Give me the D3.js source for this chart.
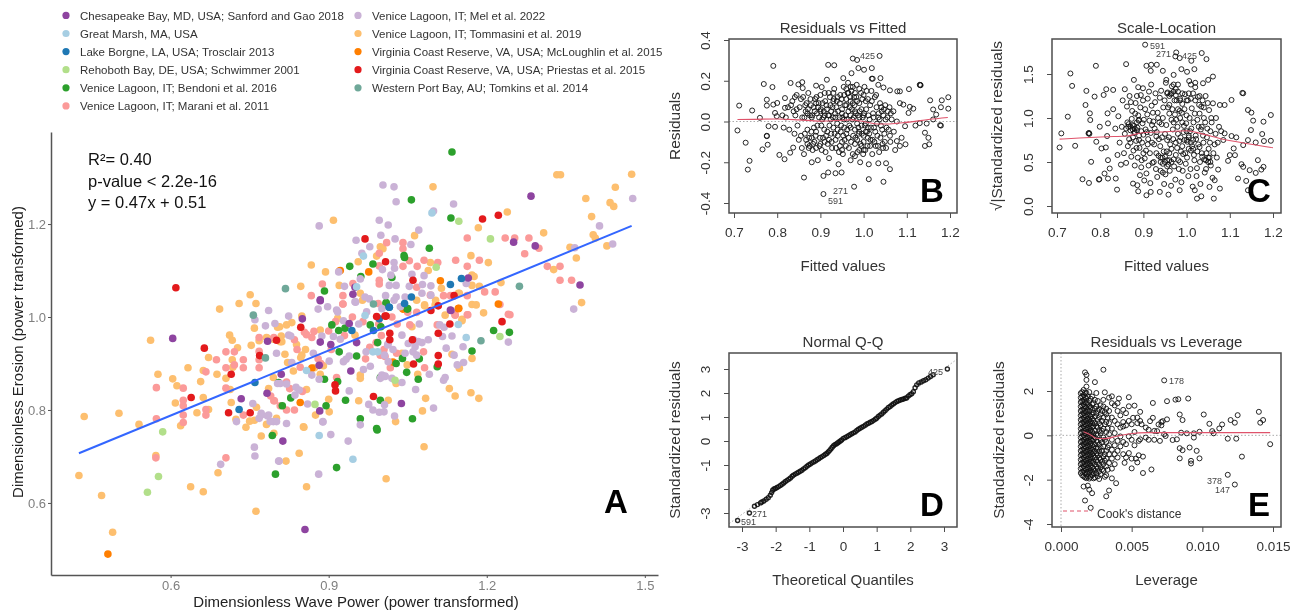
<!DOCTYPE html>
<html><head><meta charset="utf-8">
<script src="https://cdn.jsdelivr.net/npm/d3@7/dist/d3.min.js"></script>
<style>html,body{margin:0;padding:0;background:#fff}svg{display:block;filter:blur(.4px)}text{font-family:"Liberation Sans",Arial,sans-serif}</style>
</head><body><svg id="c" width="1303" height="611"></svg>
<script>
const legendLabels=["Chesapeake Bay, MD, USA; Sanford and Gao 2018","Great Marsh, MA, USA","Lake Borgne, LA, USA; Trosclair 2013","Rehoboth Bay, DE, USA; Schwimmer 2001","Venice Lagoon, IT; Bendoni et al. 2016","Venice Lagoon, IT; Marani et al. 2011","Venice Lagoon, IT; Mel et al. 2022","Venice Lagoon, IT; Tommasini et al. 2019","Virginia Coast Reserve, VA, USA; McLoughlin et al. 2015","Virginia Coast Reserve, VA, USA; Priestas et al. 2015","Western Port Bay, AU; Tomkins et al. 2014"];
const legendColors=["#8e44a0","#a6cee3","#1f78b4","#b2df8a","#2ca02c","#fb9a99","#cab2d6","#fdbf6f","#ff7f00","#e31a1c","#6fa899"];
const chesapeake=[[.604,.954],[.784,.948],[.734,.824],[.783,.836],[.813,.733],[.810,.877],[.850,.996],[.884,.946],[.904,.941],[.939,.986],[.953,.945],[.882,.896],[.942,.884],[.883,.798],[.884,1.035],[.884,1.037],[.950,1.064],[.946,1.049],[1.131,1.015],[1.284,1.260],[1.251,1.161],[1.292,1.153],[1.377,1.069],[1.165,1.084],[1.132,1.014],[1.038,.814],[.855,.543]];
const greatMarsh=[[.969,1.003],[.984,.925],[.993,.925],[.858,.885],[.966,1.131],[1.096,1.224],[.953,1.065],[1.161,.956],[1.146,.984],[.882,.745],[.946,.694]];
const lakeBorgne=[[.760,.859],[.730,.801],[.944,.971],[.985,.971],[.996,.996],[1.131,1.070],[1.057,1.043],[1.044,1.029],[1.015,1.021],[1.152,1.083],[1.015,1.021]];
const rehoboth=[[.585,.753],[.577,.657],[.556,.623],[.874,.812],[1.147,1.206],[1.104,1.107],[1.207,1.168],[1.225,.958],[1.026,.864]];
const bendoni=[[.793,.745],[.799,.662],[.805,.859],[.906,.983],[.919,.971],[.931,.976],[.979,.983],[.993,.945],[.920,.925],[.953,.916],[.892,.866],[.917,.861],[.828,.826],[.812,.809],[.895,.809],[.932,.821],[.960,.781],[.991,.760],[.998,.870],[1.134,1.355],[1.057,1.252],[1.132,1.213],[1.091,1.148],[1.043,1.132],[1.044,1.128],[.984,1.114],[.940,1.109],[1.020,1.085],[.961,1.087],[.892,1.056],[1.009,1.031],[1.050,1.018],[1.172,.927],[1.213,.971],[1.243,.967],[1.106,.893],[1.072,.910],[1.070,.866],[1.048,.881],[1.040,.911],[1.028,.900],[1.059,.781],[.998,.821],[.999,.979],[1.009,1.029],[1.049,1.017],[.915,.676],[.992,.757]];
const marani=[[.573,.848],[.624,.847],[.624,.821],[.624,.809],[.624,.789],[.624,.773],[.573,.781],[.572,.697],[.667,.882],[.667,.801],[.667,.789],[.687,.908],[.705,.925],[.721,.925],[.705,.891],[.705,.847],[.721,.897],[.738,.908],[.738,.891],[.768,.956],[.768,.926],[.768,.908],[.768,.891],[.796,.956],[.705,.697],[.738,.789],[.796,.820],[.808,.809],[.927,1.028],[.868,.956],[.846,.892],[.820,.800],[.797,.820],[1.010,1.160],[1.041,1.160],[1.041,1.147],[.996,1.137],[1.053,1.121],[1.081,1.122],[1.107,1.117],[1.141,1.122],[1.068,1.109],[1.041,1.109],[.996,1.110],[.996,1.079],[.996,1.071],[.888,1.071],[.867,1.046],[.927,1.046],[.927,1.028],[.946,1.072],[1.067,1.064],[1.093,1.047],[1.118,1.046],[1.131,1.046],[.994,1.029],[1.163,1.170],[1.235,1.170],[1.253,1.170],[1.280,1.170],[1.299,1.148],[1.272,1.136],[1.186,1.122],[1.163,1.109],[1.315,1.109],[1.339,1.109],[1.339,1.079],[1.361,1.079],[1.216,1.054],[1.196,1.054],[1.163,1.046],[1.163,1.005],[1.244,1.005],[1.225,1.027],[1.140,1.004],[1.164,1.005],[1.241,1.006],[1.067,1.010],[1.140,1.005],[1.106,.983],[1.054,.983],[1.080,.925],[1.082,.891],[1.029,.922],[1.007,.915],[1.017,.891],[.998,.918],[.835,.951],[.854,.967],[.872,.969],[.858,.962],[.84,.93],[.82,.86],[.826,.846],[.79,.83],[.9,.97],[.913,.99],[.93,.96],[.945,1.0],[.965,.99],[.995,.985],[.978,.935],[.99,.945],[1.005,.93],[1.02,1.0],[1.03,.985],[1.05,1.01],[.88,.91],[.885,.9],[.905,.93],[.915,.87],[.85,.84],[.835,.80],[.97,.91],[1.0,.96]];
const mel=[[.786,1.014],[.760,.994],[.780,.981],[.798,.986],[.801,.922],[.756,.814],[.725,.775],[.772,.793],[.768,.782],[.786,.789],[.795,.775],[.801,.775],[.759,.720],[.760,.701],[.695,.683],[.805,.690],[.808,.857],[.824,1.002],[.880,1.017],[.898,1.022],[.950,1.033],[.917,1.011],[.928,.992],[.957,.985],[.828,.959],[.824,.961],[.887,.959],[.909,.958],[.922,.952],[.871,.922],[.971,.925],[.933,.909],[.939,.916],[.928,.904],[.901,.905],[.868,.875],[.882,.866],[.830,.902],[.966,.887],[.979,.894],[.976,.812],[.939,.841],[.803,.857],[.820,.856],[.838,.849],[.844,.843],[.836,.832],[.860,.813],[.772,.789],[.784,.787],[.789,.775],[.820,.771],[.889,.775],[.984,.800],[.996,.795],[.998,.868],[1.007,.873],[1.012,.940],[1.003,1.284],[1.024,1.280],[1.028,1.248],[1.137,1.243],[1.099,1.228],[.996,1.208],[1.013,1.198],[.882,1.196],[1.071,1.187],[.999,1.176],[.952,1.165],[1.026,1.168],[1.056,1.156],[.978,1.151],[.963,1.137],[1.024,1.117],[1.025,1.105],[1.002,1.102],[.919,1.097],[.960,1.082],[1.018,1.090],[1.058,1.092],[1.081,1.089],[1.015,1.068],[1.028,1.068],[1.053,1.066],[1.078,1.070],[1.094,1.067],[.930,1.066],[1.077,1.051],[1.094,1.047],[1.008,1.046],[1.028,1.043],[1.024,1.036],[1.045,1.043],[.969,1.043],[.977,1.039],[.951,1.032],[.972,1.011],[.915,1.015],[1.001,1.018],[1.036,1.022],[1.477,1.255],[1.414,1.196],[1.439,1.157],[1.367,1.149],[1.365,1.017],[1.161,1.072],[1.039,.961],[1.072,.985],[1.111,.983],[1.119,.978],[1.116,.958],[1.134,.959],[1.155,.936],[1.089,.951],[1.123,.933],[1.138,.918],[1.061,.951],[1.070,.947],[1.077,.945],[1.051,.943],[1.064,.936],[1.060,.925],[1.067,.918],[1.045,.922],[1.022,.930],[1.013,.943],[1.006,.918],[1.013,.904],[1.144,.897],[1.156,.902],[1.241,.946],[1.091,.877],[1.121,.870],[1.118,.864],[1.065,.844],[1.001,.875],[1.007,.872],[1.020,.868],[1.039,.859],[1.006,.811],[1.005,.796],[1.025,.787],[1.099,.804],[.904,.747],[.937,.733],[.806,.690],[.881,.662],[.960,.768],[.889,.774]];
const tommasini=[[.751,1.048],[.730,1.029],[.762,1.029],[.693,1.017],[.562,.950],[.712,.961],[.717,.950],[.727,.934],[.753,.939],[.768,.949],[.672,.913],[.717,.908],[.633,.891],[.662,.885],[.688,.877],[.718,.892],[.705,.868],[.576,.877],[.604,.867],[.657,.861],[.612,.852],[.713,.844],[.786,.846],[.662,.827],[.609,.815],[.715,.816],[.650,.794],[.672,.801],[.502,.793],[.436,.786],[.540,.769],[.619,.766],[.724,.780],[.750,.776],[.763,.806],[.759,.778],[.743,.763],[.782,.769],[.796,.750],[.772,.744],[.795,.870],[.572,.702],[.690,.665],[.426,.659],[.469,.616],[.638,.635],[.662,.624],[.762,.582],[.490,.537],[.784,.954],[.759,.976],[.803,.978],[.808,.947],[.807,.979],[.830,.988],[.820,.983],[.849,1.002],[.884,.972],[.917,.997],[.950,.961],[.810,.959],[.782,.956],[.811,.947],[.839,.941],[.856,.930],[.817,.920],[.847,.913],[.822,.902],[.833,.884],[.849,.918],[.890,.895],[.884,.877],[.960,.875],[.960,.868],[.858,.844],[.900,.823],[.875,.789],[.901,.796],[.852,.764],[.957,.820],[.801,.782],[.873,.891],[.795,.952],[1.098,1.280],[.909,1.208],[1.063,1.175],[.998,1.151],[1.003,1.147],[.991,1.131],[.956,1.119],[.867,1.112],[.894,1.097],[1.093,1.117],[1.089,1.100],[.920,1.099],[.847,1.066],[.920,1.068],[1.114,1.062],[.960,1.051],[.964,1.036],[1.067,1.036],[1.103,1.036],[1.082,1.024],[1.146,1.051],[1.475,1.307],[1.333,1.306],[1.340,1.306],[1.444,1.279],[1.388,1.255],[1.434,1.246],[1.441,1.238],[1.399,1.216],[1.239,1.226],[1.184,1.192],[1.308,1.181],[1.402,1.177],[1.406,1.170],[1.358,1.150],[1.428,1.153],[1.370,1.127],[1.170,1.132],[1.203,1.117],[1.327,1.102],[1.380,1.031],[1.172,1.090],[1.176,1.087],[1.227,1.074],[1.172,1.068],[1.186,1.066],[1.172,1.027],[1.180,1.026],[1.194,1.009],[1.148,1.051],[1.153,.995],[1.082,1.026],[1.102,1.026],[1.153,.992],[1.121,1.004],[1.058,.979],[1.039,.922],[1.049,.897],[1.069,.877],[1.172,.911],[1.148,.890],[1.134,.920],[1.129,.846],[1.140,.830],[1.170,.837],[1.185,.825],[1.084,.825],[1.078,.798],[1.013,.821],[1.028,.857],[1.027,.775],[.853,.763],[.844,.707],[.819,.690],[.858,.635],[1.009,.652],[1.081,.721]];
const mcLoughlin=[[.868,.890],[.846,.816],[.481,.490],[.976,1.097],[.922,1.100],[1.112,1.078],[1.146,1.018],[1.042,1.018],[1.222,1.028],[1.147,1.019],[1.022,.903],[1.041,1.017]];
const priestas=[[.610,1.063],[.664,.933],[.639,.827],[.715,.877],[.710,.794],[.751,.794],[.769,.917],[.801,.950],[.847,.978],[.912,.854],[.913,.841],[.985,.829],[1.009,1.002],[.991,1.001],[.969,1.168],[1.008,1.119],[1.060,1.079],[1.138,1.046],[1.108,1.024],[1.192,1.211],[1.222,1.219],[1.229,.990],[1.016,.965],[1.016,.951],[1.061,.899],[1.108,.917],[1.108,.899],[1.108,.965],[1.130,.985],[1.094,1.014],[1.007,1.002],[1.059,.951]];
const westernPort=[[.757,1.004],[.780,.912],[.985,1.028],[.818,1.061],[1.262,1.066],[1.189,.949]];
const fitLineX=[.426,1.475], fitLineY=[.707,1.196];
const annotationLines=["R²= 0.40","p-value < 2.2e-16","y = 0.47x + 0.51"];
const aTicksX=[.6,.9,1.2,1.5], aTicksY=[.6,.8,1.0,1.2];

const fittedTicks=[.7,.8,.9,1,1.1,1.2];
const residualTicks=[-.4,-.2,0,.2,.4], scaleTicks=[0,.5,1,1.5], qqXTicks=[-3,-2,-1,0,1,2,3], qqYTicks=[-3,-2,-1,0,1,2,3], levXTicks=[0,.005,.01,.015], levYTicks=[-4,-2,0,2];

const rvfPoints=[[.712,.078],[.708,-.044],[.742,.054],[.727,-.104],[.736,-.193],[.732,-.236],[.791,.273],[.769,.184],[.789,.169],[.776,.107],[.776,.078],[.760,.018],[.776,-.072],[.776,-.07],[.766,-.137],[.778,-.114],[.780,-.023],[.800,.091],[.791,.083],[.795,.042],[.799,.026],[.795,-.026],[.818,.115],[.818,.067],[.805,-.164],[.817,-.185],[.831,.189],[.849,.182],[.858,.193],[.841,.12],[.830,-.153],[.837,-.128],[.862,-.275],[.859,.164],[.890,.176],[.903,.169],[.915,.205],[.918,.278],[.932,.276],[.907,-.267],[.918,-.25],[.935,-.254],[.949,-.25],[.907,-.356],[.978,-.32],[.975,.309],[.985,.302],[1.037,.322],[.988,.262],[1.001,.254],[1.019,.262],[1.019,.21],[1.021,.21],[1.039,.213],[1.012,-.283],[1.046,-.296],[1.061,-.234],[1.052,-.205],[1.034,-.205],[.972,.237],[.953,.213],[1.061,.153],[1.034,.18],[1.046,.167],[1.078,.148],[1.084,.148],[1.105,.159],[1.131,.179],[1.132,.178],[1.130,.18],[1.154,.104],[1.196,.119],[1.181,.104],[1.179,.07],[1.196,.063],[1.161,.059],[1.168,.034],[1.146,-.01],[1.13,-.008],[1.12,-.02],[1.142,-.055],[1.15,-.08],[1.142,-.12],[1.152,-.112],[1.177,-.018],[1.179,-.02],[1.161,.01],[1.096,-.023],[1.097,-.112],[1.084,-.12],[1.088,-.08],[1.077,-.096],[1.077,0],[1.069,.05],[1.084,.09],[1.092,.083],[1.107,.072],[1.115,.063],[1.104,.042],
[.812,.03],[.815,-.03],[.82,.02],[.825,.07],[.828,-.04],[.832,.08],[.835,.1],[.838,.05],[.84,-.06],[.842,.03],[.845,.13],[.847,-.02],[.85,-.09],[.852,.07],[.855,.11],[.857,-.13],[.858,.02],[.86,.12],[.862,-.16],[.864,-.06],[.866,.05],[.868,.09],[.87,-.11],[.872,.14],[.874,-.08],[.876,.03],[.878,.08],[.88,-.2],[.882,-.14],[.884,.07],[.886,-.1],[.888,.11],[.89,-.05],[.892,.04],[.894,-.19],[.896,.09],[.898,-.12],[.9,.13],[.902,-.02],[.904,.01],[.906,-.08],[.908,.05],[.91,.14],[.912,-.15],[.914,.08],[.916,-.05],[.918,.03],[.92,-.18],[.922,.12],[.924,.01],[.926,-.1],[.928,.07],[.93,-.03],[.932,.16],[.934,.04],[.936,-.13],[.938,.1],[.94,-.07],[.942,-.21],[.944,.02],[.946,.13],[.948,-.02],[.95,.06],[.952,-.16],[.954,.17],[.956,-.09],[.958,.03],[.96,.11],[.962,-.04],[.964,.19],[.966,-.13],[.968,.07],[.97,-.19],[.972,.15],[.974,.01],[.976,-.07],[.978,.12],[.98,-.11],[.982,.04],[.984,.18],[.986,-.15],[.988,-.03],[.99,.09],[.992,-.2],[.994,.14],[.996,-.06],[.998,.02],[1.0,-.1],[1.002,.17],[1.004,-.14],[1.006,.06],[1.008,-.05],[1.01,.11],[1.012,-.21],[1.014,.01],[1.016,-.09],[1.018,.15],[1.02,-.16],[1.022,.04],[1.024,-.03],[1.026,.12],[1.028,-.12],[1.03,.07],[1.032,-.07],[1.034,.02],[1.036,-.15],[1.038,.09],[1.04,-.02],[1.042,.05],[1.044,-.11],[1.046,.03],[1.048,-.06],[1.05,.08],[1.052,-.13],[1.055,.02],[1.058,-.04],[1.06,.07],[1.062,-.1],[1.065,.01],[1.07,-.05],[1.073,-.14],
[.925,.05],[.935,.02],[.945,.09],[.955,.13],[.965,.05],[.975,.17],[.985,-.01],[.995,.06],[1.005,.1],[.925,-.06],[.935,-.09],[.945,-.12],[.955,-.03],[.965,-.08],[.975,-.16],[.985,-.09],[.995,-.12],[1.005,-.05],[1.015,-.12],[.905,.09],[.895,.07],[.885,-.03],[.875,-.12],[.865,.08],[.855,-.07],[.845,.06],[1.025,-.1],[1.035,.04],[1.045,-.13],[.96,.16],[.97,.1],[.98,.14],[.99,.16],[1.0,.13],[.97,.03],[.98,-.04],[.99,-.14],[1.0,-.07],[1.01,-.08],[.95,-.1],[.94,.12],[.93,.1],[.92,.03],[.91,-.1],[.9,-.11],[.89,-.13],
[.863,.02],[.867,-.09],[.871,.06],[.873,-.13],[.877,.11],[.879,-.05],[.881,.03],[.883,-.11],[.887,.05],[.889,-.07],[.891,.12],[.893,-.02],[.897,.02],[.899,-.08],[.901,.06],[.903,-.14],[.907,.02],[.909,-.04],[.911,.1],[.913,-.07],[.915,.06],[.917,-.11],[.919,.14],[.921,-.02],[.923,.08],[.927,-.13],[.929,.02],[.931,.11],[.933,-.06],[.937,.07],[.939,-.01],[.941,.05],[.943,-.15],[.947,-.05],[.949,.11],[.951,.02],[.953,-.07],[.957,.08],[.959,-.12],[.961,.01],[.963,.14],[.967,-.02],[.969,.12],[.971,-.1],[.973,.06],[.977,.02],[.979,.08],[.981,-.08],[.983,.12],[.987,.03],[.989,-.06],[.991,.05],[.993,-.11],[.997,.11],[.999,-.16],[1.001,.04],[1.003,-.02],[1.007,.15],[1.009,-.12],[1.011,.03],[1.013,-.06],[1.015,.08],[1.017,-.03],[1.019,.1],[1.021,-.09],[1.023,.02],[1.027,-.05],[1.029,.13],[1.031,-.01],[1.033,-.12],[1.037,.01],[1.039,-.08],[1.041,.07],[1.043,-.04],[1.047,.06],[1.049,-.1],[1.051,.01],[1.053,-.03],[1.056,.05],[1.061,-.07],[1.063,.04],
[.95,.04],[.955,.01],[.96,-.06],[.965,.14],[.97,-.03],[.975,.09],[.98,.05],[.985,.1],[.99,-.05],[.995,-.02],[1.0,.03],[1.005,-.01],[1.01,-.03],[.96,.08],[.97,.17],[.98,-.17],[.99,.02],[1.0,-.14],[.95,-.14],[.94,-.04],[.93,.14],[.92,-.09],[.91,.03],[.9,.05],[.89,.09],[.88,.02],[.87,.04],[.88,-.08],[.87,-.04]];
const rvfSmoothX=[.708,.8,.85,.9,.95,.97,1.0,1.03,1.06,1.08,1.11,1.15,1.195], rvfSmoothY=[.01,.012,.008,.002,.006,.008,0,-.012,-.012,-.008,-.002,.01,.02];

const slPoints=[[.706,.665],[.71,.825],[.725,1.015],[.731,1.506],[.735,1.365],[.742,.684],[.759,.304],[.766,1.148],[.768,1.308],[.776,1.053],[.777,.977],[.773,.825],[.774,.83],[.775,.82],[.79,1.593],[.787,1.243],[.779,.502],[.774,.262],[.797,.3],[.798,.305],[.808,1.262],[.814,1.327],[.83,1.319],[.817,1.053],[.818,.939],[.816,.795],[.799,.901],[.791,.73],[.813,.665],[.803,.654],[.818,.521],[.822,.426],[.818,.312],[.81,.369],[.836,.312],[.839,.186],[.86,1.612],[.878,1.433],[.857,1.327],[.888,1.35],[.899,1.338],[.876,.255],[.886,.236],[.888,.167],[.907,.122],[.917,.16],[.938,.16],[.958,.129],[.904,1.833],[.907,1.593],[.918,1.605],[.931,1.605],[.917,1.536],[.945,1.536],[.976,1.745],[.984,1.681],[.974,1.7],[1.011,1.65],[1.035,1.738],[1.046,1.669],[.988,1.555],[1.001,1.525],[1.018,1.555],[.97,1.49],[.953,1.433],[1.061,1.471],[1.05,1.433],[1.038,1.395],[1.061,1.167],[1.104,1.205],[1.077,1.148],[1.088,1.148],[1.131,1.281],[1.129,1.285],[1.142,1.091],[1.15,1.061],[1.154,.97],[1.178,.958],[1.195,1.034],[1.149,.863],[1.175,.818],[1.142,.749],[1.16,.722],[1.179,.738],[1.195,.741],[1.131,.692],[1.115,.78],[1.104,.795],[1.088,.825],[1.109,.654],[1.1,.578],[1.112,.578],[1.096,.513],[1.127,.475],[1.131,.445],[1.165,.521],[1.178,.445],[1.173,.414],[1.16,.376],[1.146,.407],[1.119,.312],[1.138,.285],[1.142,.179],[1.073,.414],[1.077,.198],[1.063,.084],[1.065,.293],[1.053,.217],[1.034,.11],[1.024,.084],[1.019,.179],[.984,.179],
[.83,1.1],[.835,.88],[.84,.58],[.842,1.02],[.845,.72],[.848,.47],[.85,.9],[.852,1.2],[.855,.6],[.857,.82],[.86,.49],[.862,1.13],[.864,.68],[.866,.93],[.868,1.25],[.87,.86],[.872,.56],[.874,1.08],[.876,.78],[.878,.91],[.88,.46],[.882,1.17],[.884,.66],[.886,.89],[.888,1.03],[.89,.75],[.892,.35],[.894,1.26],[.896,.52],[.898,.94],[.9,.81],[.902,.29],[.904,1.1],[.906,.63],[.908,.84],[.91,1.22],[.912,.46],[.914,.97],[.916,.26],[.918,1.38],[.92,.72],[.922,1.06],[.924,.5],[.926,.88],[.928,1.28],[.93,.6],[.932,.33],[.934,1.0],[.936,.76],[.938,1.23],[.94,.4],[.942,.93],[.944,.55],[.946,1.12],[.948,.25],[.95,.82],[.952,1.4],[.954,.62],[.956,1.29],[.958,.47],[.96,1.05],[.962,.7],[.964,.23],[.966,1.36],[.968,.87],[.97,.53],[.972,1.2],[.974,.3],[.976,.98],[.978,.66],[.98,1.3],[.982,.42],[.984,1.08],[.986,.78],[.988,.27],[.99,1.16],[.992,.59],[.994,.91],[.996,1.27],[.998,.48],[1.0,1.03],[1.002,.73],[1.004,.34],[1.006,1.42],[1.008,.85],[1.01,.63],[1.012,1.11],[1.014,.22],[1.016,.95],[1.018,.52],[1.02,1.35],[1.022,.76],[1.024,.43],[1.026,1.24],[1.028,.9],[1.03,.67],[1.032,.25],[1.034,1.13],[1.036,.56],[1.038,.8],[1.04,1.0],[1.042,.38],[1.044,1.25],[1.046,.6],[1.048,.88],[1.05,.5],[1.052,1.09],[1.054,.72],[1.056,.46],[1.058,.95],[1.06,.32],[1.065,.7],[1.068,1.0],[1.07,.55],[1.075,.9],[1.08,.85],[1.085,.75],
[.87,.9],[.875,.87],[.88,.84],[.885,.95],[.89,.8],[.895,.85],[.9,.6],[.91,.7],[.92,.92],[.93,.79],[.94,.55],[.945,.38],[.95,.56],[.955,1.28],[.96,1.15],[.965,.98],[.97,1.3],[.975,1.26],[.98,1.1],[.985,1.0],[.99,.95],[.995,.75],[1.0,.85],[1.005,.65],[1.01,1.22],[1.015,.75],[1.02,1.4],[1.025,.62],[1.03,1.05],[1.035,.9],[.955,.75],[.96,.6],[.965,.5],[.97,.95],[.975,.72],[.98,.82],[.985,.5],[.99,.68],
[.863,.95],[.867,.76],[.871,1.18],[.873,.99],[.877,.63],[.879,.83],[.881,1.05],[.883,.74],[.885,1.25],[.887,.55],[.889,.97],[.891,.66],[.893,1.12],[.895,.44],[.897,.72],[.899,1.2],[.901,.98],[.903,.54],[.905,.87],[.907,.37],[.909,1.04],[.911,.76],[.913,1.3],[.915,.6],[.917,.83],[.919,1.14],[.921,.49],[.923,.96],[.925,.7],[.927,1.18],[.929,.42],[.931,.84],[.933,1.06],[.935,.57],[.937,.95],[.939,.68],[.941,1.31],[.943,.78],[.945,1.0],[.947,.62],[.949,1.2],[.951,.36],[.953,.92],[.955,.52],[.957,1.12],[.959,.78],[.961,.4],[.963,1.27],[.965,.65],[.967,1.1],[.969,.76],[.971,.45],[.973,1.04],[.975,.58],[.977,1.2],[.979,.9],[.981,.52],[.983,.74],[.985,1.22],[.987,.62],[.989,1.06],[.991,.4],[.993,.84],[.995,1.1],[.997,.6],[.999,.94],[1.001,.55],[1.003,1.2],[1.005,.78],[1.007,1.0],[1.009,.42],[1.011,.88],[1.013,.68],[1.015,1.28],[1.017,.58],[1.019,1.05],[1.021,.8],[1.023,.34],[1.025,.98],[1.027,.7],[1.029,1.15],[1.031,.5],[1.033,.87],[1.035,.6],[1.037,1.2],[1.039,.72],[1.041,.53],[1.043,.95],[1.045,.42],[1.047,.78],[1.049,1.17],[1.051,.65],[1.053,.55],[1.055,.85],[1.057,1.0],[1.062,.6],[1.067,.82],[1.072,.72],
[.86,.88],[.865,.9],[.87,.72],[.875,.92],[.88,.88],[.885,.86],[.89,.98],[.96,1.25],[.965,1.28],[.97,1.38],[.975,1.33],[.98,1.38],[.985,1.2],[.99,1.28],[1.0,1.2],[1.005,1.28],[1.01,1.38],[1.02,1.2],[1.03,1.25],[1.04,1.12],[.95,.5],[.955,.45],[.96,.52],[.945,.48],[.94,.5],[1.0,.75],[1.005,.8],[1.01,.72],[1.015,.65],[1.045,.52],[1.05,.55],[1.055,.5]];
const slSmoothX=[.706,.752,.814,.86,.899,.953,1,1.038,1.077,1.138,1.2], slSmoothY=[.76,.772,.787,.795,.833,.844,.855,.817,.768,.711,.662];

const qqPoints=[[-3.13,-3.31],[-2.78,-3.0],[-2.63,-2.72],[-2.54,-2.65],[-2.45,-2.58],[-2.41,-2.54],[-2.35,-2.5],[-2.28,-2.43],[-2.22,-2.36],[-2.16,-2.26],[-2.12,-2.15],[-2.09,-2.05],[-2.05,-2.0],[-2.01,-1.98],[-1.96,-1.94],[-1.91,-1.9],[-1.86,-1.85],[-1.81,-1.8],[-1.76,-1.75],[-1.71,-1.69],[-1.66,-1.64],[-1.61,-1.59],[-1.56,-1.54],[-1.51,-1.47],[-1.47,-1.42],[-1.42,-1.38],[-1.37,-1.34],[-1.32,-1.3],[-1.27,-1.26],[-1.22,-1.22],[-1.17,-1.16],[-1.12,-1.11],[-1.07,-1.05],[-1.02,-1.0],[-.97,-.96],[-.92,-.91],[-.87,-.87],[-.82,-.83],[-.77,-.78],[-.72,-.74],[-.67,-.69],[-.62,-.65],[-.57,-.6],[-.52,-.55],[-.48,-.52],[-.44,-.46],[-.4,-.4],[-.36,-.33],[-.32,-.26],[-.28,-.2],[-.24,-.15],[-.2,-.12],[-.16,-.08],[-.12,-.04],[-.08,0],[-.04,.04],[.01,.11],[.06,.14],[.11,.18],[.16,.22],[.21,.26],[.26,.3],[.31,.34],[.36,.38],[.41,.44],[.46,.49],[.51,.53],[.56,.57],[.61,.61],[.66,.66],[.71,.71],[.76,.74],[.81,.78],[.86,.81],[.91,.86],[.96,.91],[1,.95],[1.05,1.02],[1.1,1.08],[1.15,1.13],[1.2,1.2],[1.25,1.26],[1.3,1.33],[1.35,1.4],[1.4,1.44],[1.45,1.5],[1.5,1.55],[1.55,1.6],[1.6,1.65],[1.65,1.68],[1.7,1.71],[1.75,1.73],[1.8,1.75],[1.85,1.78],[1.89,1.79],[1.94,1.87],[1.99,1.93],[2.04,1.97],[2.09,2.05],[2.14,2.22],[2.19,2.34],[2.25,2.42],[2.32,2.46],[2.39,2.51],[2.46,2.55],[2.53,2.62],[2.6,2.69],[2.68,2.76],[3.1,3.0]];
const qqLineX=[-3.38,3.38], qqLineY=[-3.44,3.4];

const rvlPoints=[[.0073,2.48],[.003,2.96],[.0024,2.4],[.0017,2.84],[.0018,2.73],[.0018,2.5],[.0031,1.94],[.0036,1.76],[.0025,1.91],[.0041,1.66],[.0048,1.72],[.0048,1.31],[.0052,1.34],[.0065,1.46],[.0075,1.54],[.0081,1.61],[.0083,1.63],[.009,1.66],[.0084,.94],[.0086,.69],[.0101,.94],[.0105,.52],[.0125,.91],[.0114,.49],[.012,.69],[.0123,.57],[.014,1.06],[.0141,.57],[.0143,.69],[.0112,.31],[.0107,.19],[.0108,.09],[.0098,.16],[.0089,.09],[.0094,.09],[.0085,.12],[.0118,-.15],[.0124,-.15],[.0128,-.96],[.0148,-.4],[.0096,-.7],[.0091,-.55],[.0094,-.1],[.0098,-1.04],[.0092,-1.15],[.0092,-1.27],[.0084,-1.04],[.0084,-.58],[.0086,-.67],[.0082,-.18],[.0079,-.21],[.0118,-1.78],[.0123,-2.22],[.0064,-1.54],[.0058,-1.7],[.0058,-.96],[.0054,-1.22],[.005,-1.49],[.0045,-1.24],[.0056,-.18],[.006,-.1],[.0065,.79],[.0063,.64],[.0056,1.06],[.0051,.79],[.0072,.64],[.0075,.72],[.0069,.49],[.0068,.19],[.007,-.25],[.0074,-.03],[.0039,-2.16],[.0036,-1.94],[.0034,-2.49],[.0032,-2.75],[.0021,-3.27],[.0017,-2.94],[.0022,-2.61],[.002,-2.45],[.0016,-2.31],[.0019,-2.27],[.0031,-1.87],[.0027,-1.97],[.0023,-1.94],[.0018,-1.93],
[.0014,1.9],[.0014,1.7],[.0014,1.5],[.0014,1.3],[.0014,1.1],[.0014,.9],[.0014,.7],[.0014,.5],[.0014,.3],[.0014,.1],[.0014,-.1],[.0014,-.3],[.0014,-.5],[.0014,-.7],[.0014,-.9],[.0014,-1.1],[.0014,-1.3],[.0014,-1.5],[.0014,-1.7],
[.0016,2.05],[.0016,1.82],[.0016,1.6],[.0016,1.4],[.0016,1.2],[.0016,1.0],[.0016,.8],[.0016,.6],[.0016,.4],[.0016,.2],[.0016,0],[.0016,-.2],[.0016,-.4],[.0016,-.6],[.0016,-.8],[.0016,-1.0],[.0016,-1.2],[.0016,-1.4],[.0016,-1.6],[.0016,-1.85],
[.0018,2.2],[.0018,1.9],[.0018,1.65],[.0018,1.45],[.0018,1.25],[.0018,1.05],[.0018,.85],[.0018,.65],[.0018,.45],[.0018,.25],[.0018,.05],[.0018,-.15],[.0018,-.35],[.0018,-.55],[.0018,-.75],[.0018,-.95],[.0018,-1.15],[.0018,-1.35],[.0018,-1.55],[.0018,-1.75],
[.002,1.95],[.002,1.55],[.002,1.3],[.002,1.1],[.002,.9],[.002,.7],[.002,.5],[.002,.3],[.002,.1],[.002,-.1],[.002,-.3],[.002,-.5],[.002,-.7],[.002,-.9],[.002,-1.1],[.002,-1.3],[.002,-1.5],[.002,-1.7],[.002,-1.95],
[.0022,1.75],[.0022,1.4],[.0022,1.15],[.0022,.95],[.0022,.75],[.0022,.55],[.0022,.35],[.0022,.15],[.0022,-.05],[.0022,-.25],[.0022,-.45],[.0022,-.65],[.0022,-.85],[.0022,-1.05],[.0022,-1.25],[.0022,-1.45],[.0022,-1.65],[.0022,-1.8],
[.0024,1.6],[.0024,1.2],[.0024,.85],[.0024,.55],[.0024,.2],[.0024,-.1],[.0024,-.4],[.0024,-.7],[.0024,-1.0],[.0024,-1.3],[.0024,-1.6],[.0024,-1.9],
[.0026,1.55],[.0026,1.1],[.0026,.7],[.0026,.35],[.0026,0],[.0026,-.3],[.0026,-.6],[.0026,-.9],[.0026,-1.2],[.0026,-1.5],[.0026,-1.85],
[.0028,1.35],[.0028,.95],[.0028,.45],[.0028,.1],[.0028,-.2],[.0028,-.55],[.0028,-.85],[.0028,-1.1],[.0028,-1.45],[.0028,-1.75],
[.003,1.6],[.003,1.3],[.003,.8],[.003,.3],[.003,-.1],[.003,-.5],[.003,-.95],[.003,-1.3],[.003,-1.6],
[.0032,1.2],[.0032,.95],[.0032,.6],[.0032,.15],[.0032,-.3],[.0032,-.7],[.0032,-1.05],[.0032,-1.4],[.0032,-1.8],
[.0034,1.7],[.0034,1.1],[.0034,.55],[.0034,.05],[.0034,-.45],[.0034,-.85],[.0034,-1.25],
[.0036,1.45],[.0036,.8],[.0036,.3],[.0036,-.2],[.0036,-.65],[.0036,-1.05],[.0036,-1.5],
[.0038,1.35],[.0038,.65],[.0038,.1],[.0038,-.45],[.0038,-.85],[.0038,-1.3],
[.004,1.45],[.004,1.1],[.004,.5],[.004,-.25],[.004,-.7],[.004,-1.0],
[.0042,.9],[.0042,.35],[.0042,-.05],[.0042,-.5],[.0044,1.15],[.0044,.6],[.0044,.4],[.0044,-.3],[.0044,-.85],[.0046,1.0],[.0046,.45],[.0046,-.4],[.0046,-1.0],[.0048,.65],[.0048,-.05],[.0048,-.8],[.005,.5],[.005,-.2],[.005,-1.05],[.0052,.15],[.0052,-.45],[.0054,.8],[.0054,.55],[.0055,-.25],[.0056,.65],[.0057,.5],[.006,.35],[.0062,.25],[.0066,.2],[.0071,.45],[.0071,.6],[.0073,.05],[.0066,-.2],[.0055,-.9],[.0062,-.2],[.0053,-1.05],
[.0015,1.95],[.0015,1.75],[.0015,1.55],[.0015,1.35],[.0015,1.15],[.0015,.95],[.0015,.75],[.0015,.55],[.0015,.35],[.0015,.15],[.0015,-.05],[.0015,-.25],[.0015,-.45],[.0015,-.65],[.0015,-.85],[.0015,-1.05],[.0015,-1.25],[.0015,-1.45],[.0015,-1.65],[.0015,-1.8],
[.0017,1.93],[.0017,1.7],[.0017,1.5],[.0017,1.3],[.0017,1.1],[.0017,.9],[.0017,.7],[.0017,.5],[.0017,.3],[.0017,.1],[.0017,-.1],[.0017,-.3],[.0017,-.5],[.0017,-.7],[.0017,-.9],[.0017,-1.1],[.0017,-1.3],[.0017,-1.5],[.0017,-1.7],[.0017,-1.9],
[.0019,1.75],[.0019,1.4],[.0019,1.15],[.0019,.95],[.0019,.75],[.0019,.55],[.0019,.35],[.0019,.15],[.0019,-.05],[.0019,-.25],[.0019,-.45],[.0019,-.65],[.0019,-.85],[.0019,-1.05],[.0019,-1.25],[.0019,-1.45],[.0019,-1.65],[.0019,-1.85],
[.0021,1.65],[.0021,1.25],[.0021,.85],[.0021,.62],[.0021,.42],[.0021,.22],[.0021,.02],[.0021,-.18],[.0021,-.38],[.0021,-.58],[.0021,-.78],[.0021,-.98],[.0021,-1.18],[.0021,-1.38],[.0021,-1.58],[.0021,-1.88],
[.0023,1.45],[.0023,1.02],[.0023,.68],[.0023,.42],[.0023,.08],[.0023,-.18],[.0023,-.52],[.0023,-.78],[.0023,-.92],[.0023,-1.18],[.0023,-1.52],[.0023,-1.72],
[.0025,1.3],[.0025,.98],[.0025,.42],[.0025,.05],[.0025,-.25],[.0025,-.55],[.0025,-.82],[.0025,-1.12],[.0025,-1.42],[.0025,-1.72],
[.0027,1.2],[.0027,.82],[.0027,.55],[.0027,.2],[.0027,-.42],[.0027,-.72],[.0027,-1.02],[.0027,-1.32],[.0027,-1.62],
[.0029,1.1],[.0029,.65],[.0029,.2],[.0029,-.32],[.0029,-.7],[.0029,-1.2],[.0029,-1.55],[.0031,1.05],[.0031,.5],[.0031,-.2],[.0031,-.85],[.0031,-1.15],[.0033,.8],[.0033,.3],[.0033,-.55],[.0033,-1.55]];
const rvlSmoothX=[.0016,.0021,.0025,.0031,.004,.0049,.0061,.0084,.0108,.0148], rvlSmoothY=[.16,.015,-.13,-.15,-.03,.07,.12,.12,.12,.12];

const svg=d3.select("#c");
const tickCol="#7f7f7f", darkText="#333", axisCol="#555", pinkLine="#df536b";

/* ---- Panel A ---- */
const xA=d3.scaleLinear().domain([.373,1.525]).range([51,658]);
const yA=d3.scaleLinear().domain([.445,1.398]).range([575,132]);
const drawOrder=[7,5,8,4,6,0,1,2,3,9,10];
const allSeries=[chesapeake,greatMarsh,lakeBorgne,rehoboth,bendoni,marani,mel,tommasini,mcLoughlin,priestas,westernPort];
const gA=svg.append("g");
const axA=gA.append("g").attr("transform","translate(0,575)").call(d3.axisBottom(xA).tickValues(aTicksX).tickFormat(d3.format(".1f")).tickSizeInner(3).tickSizeOuter(0).tickPadding(3));
const ayA=gA.append("g").attr("transform","translate(51,0)").call(d3.axisLeft(yA).tickValues(aTicksY).tickFormat(d3.format(".1f")).tickSizeInner(3).tickSizeOuter(0).tickPadding(2));
[axA,ayA].forEach(a=>{a.selectAll(".domain").attr("stroke",axisCol).attr("stroke-width",1.5);a.selectAll(".tick line").attr("stroke",axisCol);a.selectAll("text").attr("fill",tickCol).style("font-size","13px").style("font-family",'"Liberation Sans"');});
drawOrder.forEach(i=>{gA.append("g").selectAll("circle").data(allSeries[i]).join("circle").attr("cx",d=>xA(d[0])).attr("cy",d=>yA(d[1])).attr("r",3.8).attr("fill",legendColors[i]);});
gA.append("path").attr("d",d3.line().x(d=>xA(d[0])).y(d=>yA(d[1]))(d3.zip(fitLineX,fitLineY))).attr("stroke","#3366ff").attr("stroke-width",2).attr("fill","none");
annotationLines.forEach((t,i)=>gA.append("text").attr("x",88).attr("y",165+i*21.6).attr("font-size",16.5).attr("fill","#111").text(t));
gA.append("text").attr("x",356).attr("y",607).attr("text-anchor","middle").attr("font-size",15).attr("fill","#222").text("Dimensionless Wave Power (power transformed)");
gA.append("text").attr("transform","translate(23,352) rotate(-90)").attr("text-anchor","middle").attr("font-size",15).attr("fill","#222").text("Dimensionless Erosion (power transformed)");
gA.append("text").attr("x",604).attr("y",513).attr("font-size",33).attr("font-weight","bold").attr("fill","#000").text("A");
legendLabels.forEach((t,i)=>{const col=i<6?0:1,row=i<6?i:i-6;const y=15.7+row*18.1;
  gA.append("circle").attr("cx",col?358:66).attr("cy",y-.3).attr("r",3.6).attr("fill",legendColors[i]);
  gA.append("text").attr("x",col?372:80).attr("y",y+4).attr("font-size",11.5).attr("fill","#333").text(t);});

/* ---- R diagnostic panels ---- */
function panel(o){
  const g=svg.append("g");
  const x=d3.scaleLinear().domain(o.xd).range(o.xr), y=d3.scaleLinear().domain(o.yd).range(o.yr);
  const [L,R,T,B]=o.box;
  const clip="c"+o.letter;
  g.append("clipPath").attr("id",clip).append("rect").attr("x",L).attr("y",T).attr("width",R-L).attr("height",B-T);
  const inner=g.append("g").attr("clip-path",`url(#${clip})`);
  (o.refs||[]).forEach(r=>{inner.append("line").attr("x1",r.v!==undefined?x(r.v):L).attr("x2",r.v!==undefined?x(r.v):R).attr("y1",r.h!==undefined?y(r.h):T).attr("y2",r.h!==undefined?y(r.h):B).attr("stroke","#aaa").attr("stroke-width",1).attr("stroke-dasharray","1.5 2");});
  if(o.diag) inner.append("path").attr("d",d3.line().x(d=>x(d[0])).y(d=>y(d[1]))(o.diag)).attr("stroke","#aaa").attr("stroke-dasharray","1.5 2").attr("fill","none");
  inner.append("g").selectAll("circle").data(o.pts).join("circle").attr("cx",d=>x(d[0])).attr("cy",d=>y(d[1])).attr("r",o.r||2.5).attr("fill","none").attr("stroke","#111").attr("stroke-width",o.sw||1).attr("stroke-opacity",.9);
  if(o.smooth) inner.append("path").attr("d",d3.line().x(d=>x(d[0])).y(d=>y(d[1])).curve(d3.curveMonotoneX)(o.smooth)).attr("fill","none").attr("stroke",pinkLine).attr("stroke-width",1.1);
  g.append("rect").attr("x",L).attr("y",T).attr("width",R-L).attr("height",B-T).attr("fill","none").attr("stroke","#4d4d4d").attr("stroke-width",1.5);
  const ax=g.append("g").attr("transform",`translate(0,${B})`).call(d3.axisBottom(x).tickValues(o.xt).tickFormat(o.xf).tickSize(5).tickPadding(9));
  const ay=g.append("g").attr("transform",`translate(${L},0)`).call(d3.axisLeft(y).tickValues(o.yt).tickFormat(o.yf).tickSize(5));
  [ax,ay].forEach(a=>{a.select(".domain").remove();a.selectAll(".tick line").attr("stroke","#4d4d4d").attr("stroke-width",1);a.selectAll("text").attr("fill",darkText).style("font-size","13.5px").style("font-family",'"Liberation Sans"');});
  ay.selectAll("text").each(function(d){d3.select(this).attr("x",null).attr("y",null).attr("dy",null).attr("dx",null).attr("text-anchor","middle").attr("dominant-baseline","central").attr("transform",`translate(${o.yTickX-L},0) rotate(-90)`);});
  const cx=(L+R)/2;
  g.append("text").attr("x",cx).attr("y",T-6).attr("text-anchor","middle").attr("font-size",15).attr("fill",darkText).text(o.title);
  g.append("text").attr("x",cx).attr("y",B+58).attr("text-anchor","middle").attr("font-size",15).attr("fill",darkText).text(o.xlab);
  g.append("text").attr("transform",`translate(${o.ylabX},${(T+B)/2}) rotate(-90)`).attr("text-anchor","middle").attr("font-size",15.5).attr("fill",darkText).text(o.ylab);
  g.append("text").attr("x",o.letterX).attr("y",B-11).attr("font-size",33).attr("font-weight","bold").attr("fill","#000").text(o.letter);
  (o.notes||[]).forEach(n=>g.append("text").attr("x",n[0]).attr("y",n[1]).attr("font-size",n[3]||9).attr("fill",n[3]?darkText:"#444").text(n[2]));
  return {g,x,y};
}
const f1=d=>d3.format(".1f")(d).replace("−","-");
panel({letter:"B",title:"Residuals vs Fitted",xlab:"Fitted values",ylab:"Residuals",box:[729,957,39,213],xd:[.7,1.2],xr:[734,950],yd:[-.4,.4],yr:[203,40],xt:fittedTicks,yt:residualTicks,xf:f1,yf:f1,yTickX:705,ylabX:680,letterX:920,pts:rvfPoints,smooth:d3.zip(rvfSmoothX,rvfSmoothY),refs:[{h:0}],
  notes:[[860,59,"425"],[833,194,"271"],[828,204,"591"]]});
panel({letter:"C",title:"Scale-Location",xlab:"Fitted values",ylab:"√|Standardized residuals",box:[1052,1281,39,213],xd:[.7,1.2],xr:[1057,1273],yd:[0,1.5],yr:[206,74],xt:fittedTicks,yt:scaleTicks,xf:f1,yf:f1,yTickX:1028,ylabX:1002,letterX:1247,pts:slPoints,smooth:d3.zip(slSmoothX,slSmoothY),
  notes:[[1150,49,"591"],[1156,57,"271"],[1182,59,"425"]]});
panel({letter:"D",title:"Normal Q-Q",xlab:"Theoretical Quantiles",ylab:"Standardized residuals",box:[729,957,353,527],xd:[-3,3],xr:[742,944],yd:[-3,3],yr:[513,369],xt:qqXTicks,yt:qqYTicks,xf:d=>String(d),yf:d=>d===-2?"":String(d),yTickX:705,ylabX:680,letterX:920,r:2,sw:1.4,pts:qqPoints,diag:d3.zip(qqLineX,qqLineY),
  notes:[[928,375,"425"],[752,517,"271"],[741,525,"591"]]});
const pE=panel({letter:"E",title:"Residuals vs Leverage",xlab:"Leverage",ylab:"Standardized residuals",box:[1052,1281,353,527],xd:[0,.015],xr:[1061,1273],yd:[-4,2],yr:[524,391],xt:levXTicks,yt:levYTicks,xf:d3.format(".3f"),yf:d=>String(d),yTickX:1028,ylabX:1004,letterX:1248,pts:rvlPoints,smooth:d3.zip(rvlSmoothX,rvlSmoothY),refs:[{h:0},{v:0}],
  notes:[[1169,384,"178"],[1207,484,"378"],[1215,493,"147"],[1097,518,"Cook's distance",12]]});
pE.g.append("line").attr("x1",1063).attr("x2",1092).attr("y1",511).attr("y2",511).attr("stroke",pinkLine).attr("stroke-dasharray","4 3").attr("stroke-width",1);
</script></body></html>
